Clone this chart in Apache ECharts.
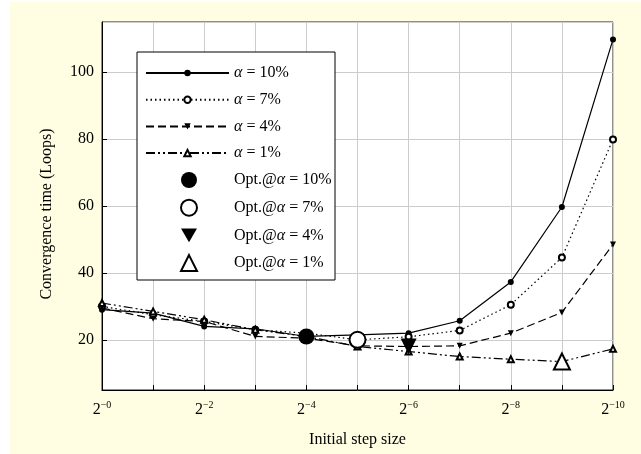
<!DOCTYPE html>
<html>
<head>
<meta charset="utf-8">
<script src="https://cdn.jsdelivr.net/npm/echarts@6/dist/echarts.min.js"></script>
<style>
  html, body { margin: 0; padding: 0; background: #fff; }
  #chart { width: 641px; height: 454px; }
</style>
</head>
<body>
<div id="chart"></div>
<script>
// x positions are exponents: step size = 2^-n
const stepExp = [0, 1, 2, 3, 4, 5, 6, 7, 8, 9, 10];

// convergence time (loops) per alpha
const alpha10 = [29, 28, 24, 23.3, 21, 21.5, 22, 25.7, 37.3, 59.7, 109.8];
const alpha7 = [30, 27.5, 25.5, 23, 22, 20, 20.9, 22.8, 30.5, 44.6, 79.9];
const alpha4 = [29.5, 26.3, 25.5, 21, 20.5, 18.2, 18, 18.2, 22, 28.2, 48.5];
const alpha1 = [31, 28.5, 26, 23, 21, 18, 16.5, 15, 14.2, 13.5, 17.3];

// index of the optimal step for each alpha
const optIdx10 = 4;
const optIdx7 = 5;
const optIdx4 = 6;
const optIdx1 = 9;

const lineNames = ['α = 10%', 'α = 7%', 'α = 4%', 'α = 1%'];
const optNames = ['Opt.@α = 10%', 'Opt.@α = 7%', 'Opt.@α = 4%', 'Opt.@α = 1%'];

const FONT = "'Liberation Serif', 'Times New Roman', serif";
const downTri = 'path://M0,0L2,0L1,1.732Z';

const chart = echarts.init(document.getElementById('chart'));

function pairs(ys) {
    return stepExp.map((x, i) => [x, ys[i]]);
}

function lineSeries(name, ys, symbol, dash) {
    return {
        name: name,
        type: 'line',
        data: pairs(ys),
        symbol: symbol,
        symbolSize: 6,
        showAllSymbol: true,
        color: '#000',
        itemStyle: { color: '#000', borderWidth: 1, opacity: 1 },
        lineStyle: { color: '#000', width: 1.2, type: dash },
        z: 3
    };
}

function optSeries(name, ys, idx, symbol) {
    return {
        name: name,
        type: 'scatter',
        data: [[stepExp[idx], ys[idx]]],
        symbol: symbol,
        symbolSize: 16,
        color: '#000',
        itemStyle: { color: '#000', borderWidth: 1.2, opacity: 1 },
        z: 5
    };
}

function legendText(padLeft) {
    return {
        color: '#000',
        fontFamily: FONT,
        fontSize: 16,
        lineHeight: 16,
        padding: [0, 0, 0, padLeft],
        rich: {
            i: { fontFamily: FONT, fontSize: 16, lineHeight: 16, fontStyle: 'italic', color: '#000' }
        }
    };
}

function legendFormatter(name) {
    return name.replace('α', '{i|α}');
}

const option = {
    animation: false,
    backgroundColor: '#fff',
    graphic: [
        {
            type: 'rect',
            shape: { x: 10, y: 2, width: 631, height: 452 },
            style: { fill: '#FFFEE2' },
            z: -10,
            silent: true
        },
        {
            type: 'rect',
            shape: { x: 137, y: 52, width: 198, height: 228 },
            style: { fill: '#fff', stroke: '#000', lineWidth: 1 },
            z: 3
        },
        {
            type: 'text',
            x: 47,
            y: 214,
            rotation: Math.PI / 2,
            style: {
                text: 'Convergence time (Loops)',
                fontFamily: FONT,
                fontSize: 16,
                fill: '#000',
                align: 'center',
                verticalAlign: 'middle'
            }
        }
    ],
    legend: [
        {
            data: lineNames,
            orient: 'vertical',
            left: 145,
            top: 65,
            padding: 0,
            itemWidth: 83,
            itemHeight: 8,
            itemGap: 10.7,
            textStyle: legendText(0),
            formatter: legendFormatter,
            z: 6
        },
        {
            data: optNames,
            orient: 'vertical',
            left: 180,
            top: 172,
            padding: 0,
            itemWidth: 16,
            itemHeight: 16,
            itemGap: 10.7,
            textStyle: legendText(32),
            formatter: legendFormatter,
            z: 6
        }
    ],
    grid: {
        left: 102,
        right: 28,
        top: 22,
        bottom: 64,
        show: true,
        backgroundColor: '#fff',
        borderColor: '#222',
        borderWidth: 1
    },
    xAxis: {
        type: 'value',
        min: 0,
        max: 10,
        interval: 1,
        name: 'Initial step size',
        nameLocation: 'middle',
        nameGap: 42,
        nameTextStyle: { fontFamily: FONT, fontSize: 16, color: '#000' },
        axisLine: { lineStyle: { color: '#000' } },
        axisTick: { inside: true, length: 5, lineStyle: { color: '#000' } },
        splitLine: { show: true, lineStyle: { color: '#ccc' } },
        axisLabel: {
            margin: 10,
            color: '#000',
            formatter: v => (v % 2 === 0 ? '{b|2}{s|−' + v + '}' : ''),
            rich: {
                b: { fontFamily: FONT, fontSize: 16, color: '#000', lineHeight: 20 },
                s: { fontFamily: FONT, fontSize: 10, color: '#000', verticalAlign: 'top', lineHeight: 16 }
            }
        }
    },
    yAxis: {
        type: 'value',
        min: 5,
        max: 115,
        axisLine: { show: true, lineStyle: { color: '#000' } },
        axisTick: { show: true, inside: true, length: 5, lineStyle: { color: '#000' } },
        splitLine: { show: true, lineStyle: { color: '#ccc' } },
        axisLabel: {
            showMinLabel: false,
            showMaxLabel: false,
            margin: 8,
            fontFamily: FONT,
            fontSize: 16,
            color: '#000'
        }
    },
    series: [
        lineSeries(lineNames[0], alpha10, 'circle', 'solid'),
        lineSeries(lineNames[1], alpha7, 'emptyCircle', [1.5, 3]),
        lineSeries(lineNames[2], alpha4, downTri, [8, 4]),
        lineSeries(lineNames[3], alpha1, 'emptyTriangle', [9, 3, 2, 3, 2, 3]),
        optSeries(optNames[0], alpha10, optIdx10, 'circle'),
        optSeries(optNames[1], alpha7, optIdx7, 'emptyCircle'),
        optSeries(optNames[2], alpha4, optIdx4, downTri),
        optSeries(optNames[3], alpha1, optIdx1, 'emptyTriangle')
    ]
};

chart.setOption(option);
</script>
</body>
</html>
